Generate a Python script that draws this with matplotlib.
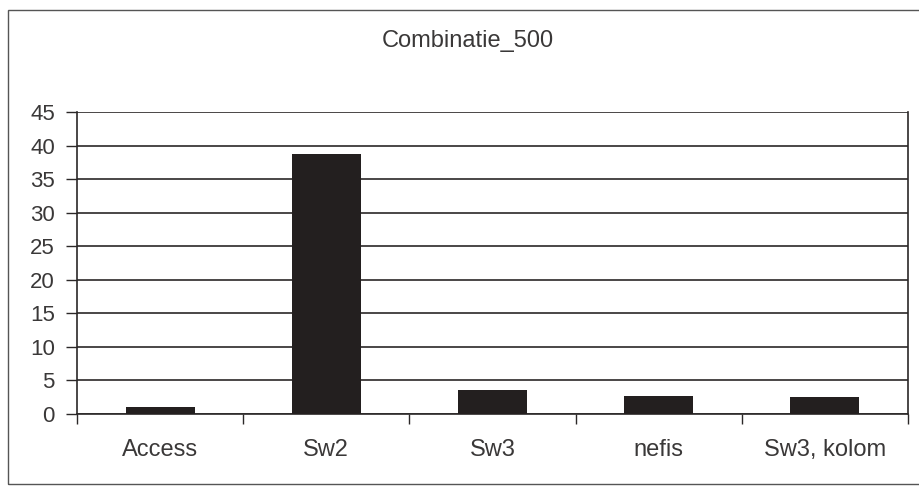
import numpy as np
import matplotlib.pyplot as plt
from matplotlib.patches import Rectangle
from matplotlib.ticker import FixedLocator

categories = ['Access', 'Sw2', 'Sw3', 'nefis', 'Sw3, kolom']
values = [1.1, 38.7, 3.6, 2.7, 2.6]
yticks = [0, 5, 10, 15, 20, 25, 30, 35, 40, 45]

plt.rcParams['font.family'] = ['Liberation Sans', 'DejaVu Sans']
ink = '#2b2828'
text_col = '#3a3838'

fig = plt.figure(figsize=(9.2, 4.87), dpi=100)
fig.patch.set_facecolor('white')

# outer chart border
fig.patches.append(Rectangle((0.0087, 0.006), 1.1, 0.973, transform=fig.transFigure,
                             fill=False, edgecolor='#555555', linewidth=1.0))

ax = fig.add_axes([0.0837, 0.150, 0.9033, 0.620])
x = np.arange(len(categories))
ax.bar(x, values, width=0.415, color='#231f1f', zorder=3)

ax.set_xlim(-0.5, len(categories) - 0.5)
ax.set_ylim(0, 45)
ax.set_yticks(yticks)
ax.set_yticklabels([str(t) for t in yticks])
ax.yaxis.grid(True, color=ink, linewidth=1.2)
ax.set_axisbelow(True)

ax.set_xticks(x)
ax.set_xticklabels(categories)
ax.xaxis.set_minor_locator(FixedLocator(np.arange(-0.5, len(categories), 1.0)))
ax.tick_params(axis='x', which='major', length=0, pad=18, labelsize=17, labelcolor=text_col)
ax.tick_params(axis='x', which='minor', length=7, width=1.0, color=ink, direction='out')
ax.tick_params(axis='y', length=8, width=1.0, color=ink, pad=8, labelsize=16, labelcolor=text_col)

for side in ['left', 'right', 'bottom']:
    ax.spines[side].set_color(ink)
    ax.spines[side].set_linewidth(1.2)
ax.spines['top'].set_visible(False)

fig.text(0.508, 0.915, 'Combinatie_500', ha='center', va='center', fontsize=17, color=text_col)

fig.savefig('out.png', dpi=100)
